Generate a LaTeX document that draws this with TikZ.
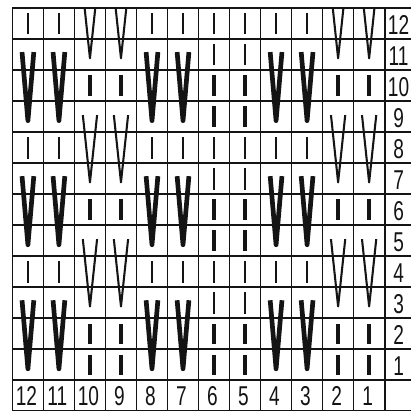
\documentclass[tikz,border=0pt]{standalone}
\usepackage{fontspec}
\usepackage{xcolor}
\newfontfamily\chartfont[FakeStretch=0.70]{Liberation Sans}
\definecolor{chartink}{HTML}{141414}
% x of the centre of chart column #1 (column 1 is on the right)
\newcommand{\colx}[1]{12.5-#1}

\begin{document}
\begin{tikzpicture}[
  x=1cm,
  y=1cm,
  every node/.style={font=\chartfont\fontsize{25}{25}\selectfont, chartink,
    inner sep=0pt},
  rule/.style={chartink, line width=1.6pt, line cap=rect},
  thinbar/.style={chartink, line width=1.5pt},
  boldbar/.style={chartink, line width=3.8pt},
  thinvee/.style={chartink, line width=1.9pt, line join=round},
  boldvee/.style={chartink, line width=4.3pt, line join=round}
]
  \useasboundingbox (-0.40,-0.97) rectangle (12.85,12.26);

  % ================= the ruling =========================================
  % 12 x 12 stitch cells, a column of row numbers on the right and a row of
  % column numbers below; the page cuts both off at their outer edge.
  \begin{scope}
    \clip (-0.40,-0.97) rectangle (12.85,12.26);
    \foreach \i in {0,...,13}
      \draw[rule] (\i,-1) -- (\i,12);
    \foreach \j in {-1,...,12}
      \draw[rule] (0,\j) -- (13,\j);
  \end{scope}

  % ================= the stitches =======================================
  \begin{scope}
    \clip (0,0) rectangle (12,12);

    % long slipped stitches over three rows, a plain knit row between
    \foreach \n in {12,11,8,7,4,3}
      \foreach \r in {0,4,8} {
        \draw[boldvee] ({\colx{\n}-0.19},\r+2.58) -- ({\colx{\n}},\r+0.37)
          -- ({\colx{\n}+0.19},\r+2.58);
        \draw[thinbar] ({\colx{\n}},\r+3.15) -- ({\colx{\n}},\r+3.85);
      }

    % the thin ones start half a row up and end in the second row down;
    % the top set runs into the border and is cut there by the clip.
    \foreach \n in {10,9,2,1} {
      \foreach \r in {4,8,12} {
        \draw[thinvee] ({\colx{\n}-0.23},\r+0.55) -- ({\colx{\n}},\r-1.62)
          -- ({\colx{\n}+0.23},\r+0.55);
        \draw[boldbar] ({\colx{\n}},\r-2.83) -- ({\colx{\n}},\r-2.17);
      }
      \draw[boldbar] ({\colx{\n}},0.17) -- ({\colx{\n}},0.83);
    }

    % columns 6 and 5: two bold rows, two plain rows
    \foreach \n in {6,5}
      \foreach \r in {0,4,8} {
        \draw[boldbar] ({\colx{\n}},\r+0.17) -- ({\colx{\n}},\r+0.83);
        \draw[boldbar] ({\colx{\n}},\r+1.17) -- ({\colx{\n}},\r+1.83);
        \draw[thinbar] ({\colx{\n}},\r+2.15) -- ({\colx{\n}},\r+2.85);
        \draw[thinbar] ({\colx{\n}},\r+3.15) -- ({\colx{\n}},\r+3.85);
      }
  \end{scope}

  % ================= the numbers ========================================
  \foreach \r in {1,...,12}
    \node (row\r) at (12.45,\r-0.55) {\r};
  \foreach \n in {1,...,12}
    \node (col\n) at ({\colx{\n}-0.05},-0.5) {\n};
\end{tikzpicture}
\end{document}
